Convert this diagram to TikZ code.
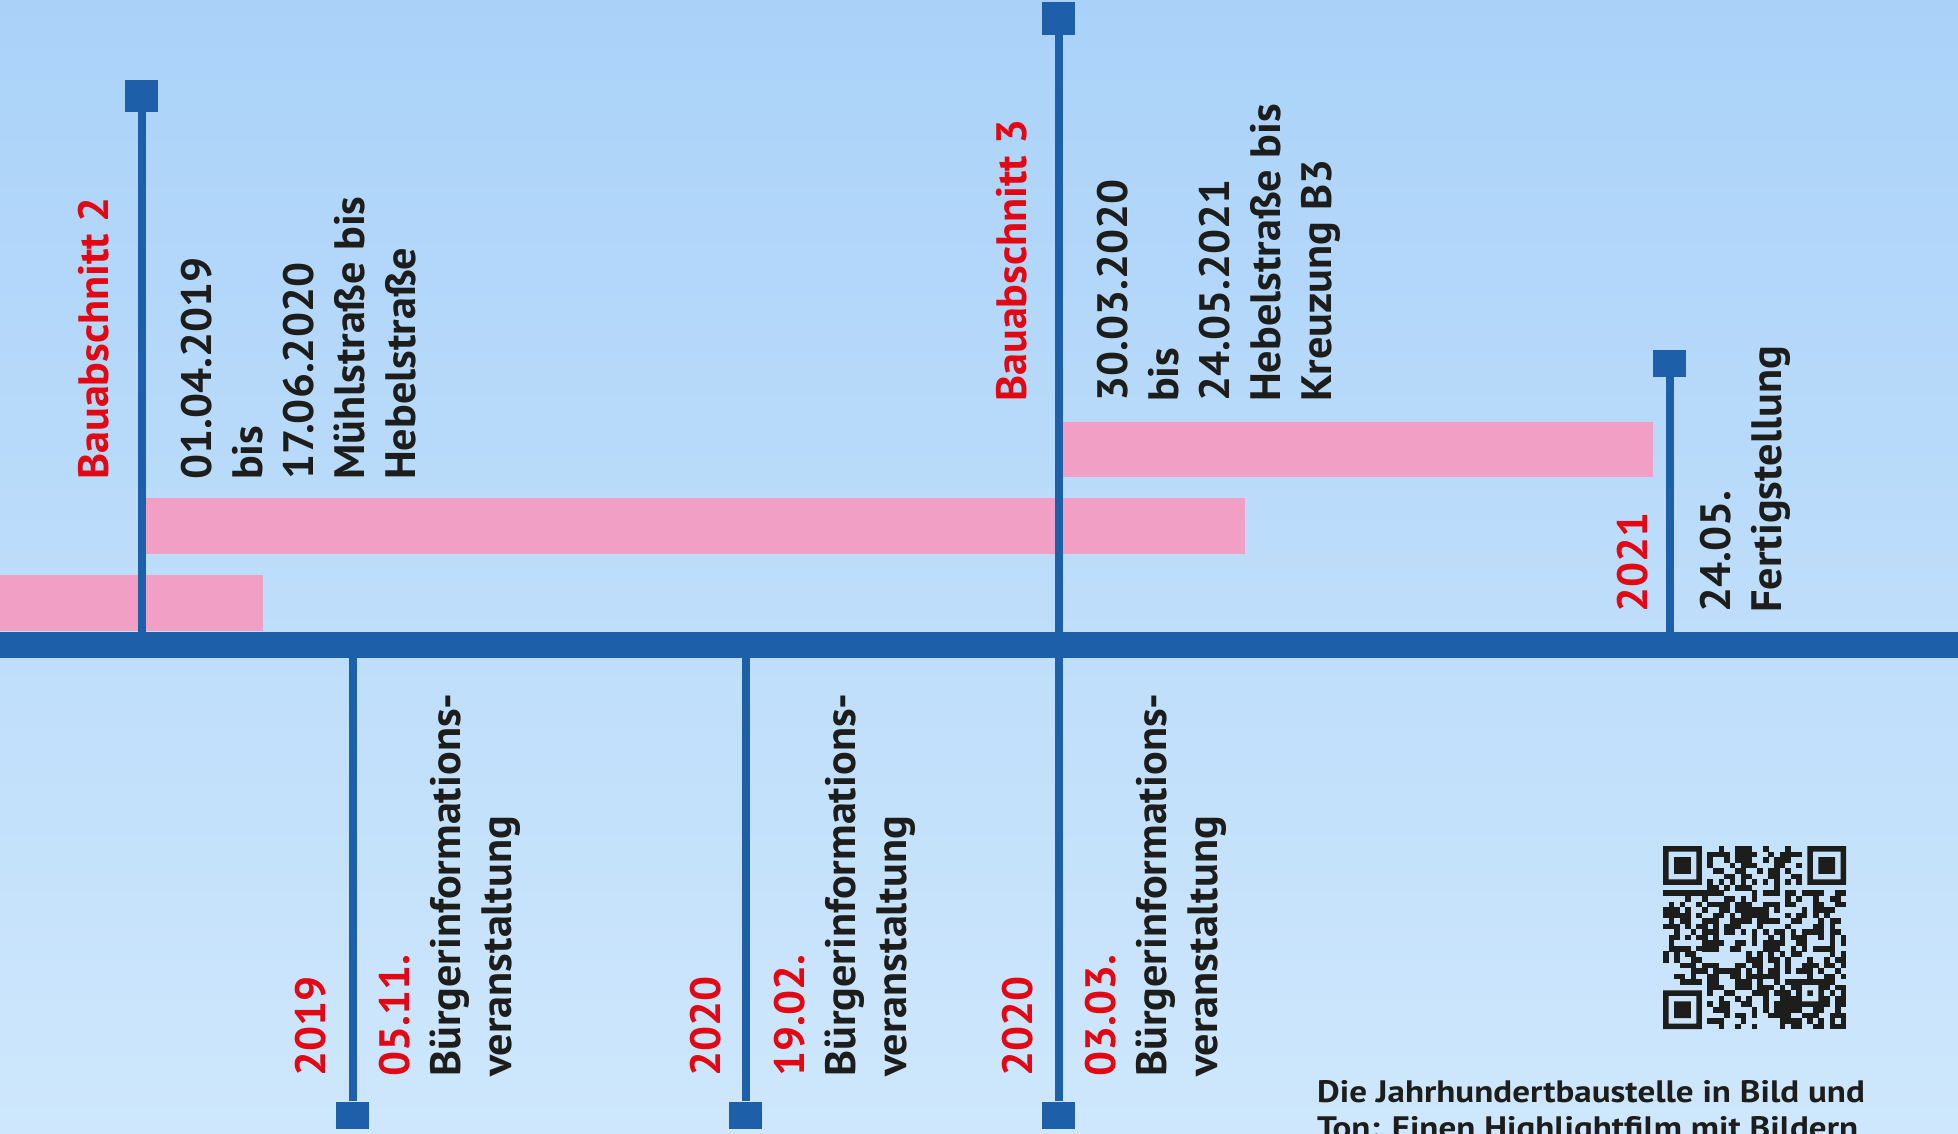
\documentclass[tikz,border=0pt]{standalone}
\usepackage{fontspec}
\setmainfont{PT Sans}[BoldFont={PT Sans Bold},FakeStretch=1.04]
\newfontfamily\infofont{PT Sans Bold}[FakeStretch=1.13]
\usetikzlibrary{positioning,calc}

\definecolor{tlblue}{RGB}{29,95,168}
\definecolor{tlred}{RGB}{227,6,19}
\definecolor{tlpink}{RGB}{242,159,197}
\definecolor{tlink}{RGB}{29,29,27}
\definecolor{skytop}{RGB}{170,210,249}
\definecolor{skymid}{RGB}{200,226,251}
\definecolor{skybot}{RGB}{206,231,252}

\begin{document}
\begin{tikzpicture}[
  x=1pt,y=-1pt,
  endsq/.style={fill=tlblue,minimum width=33pt,minimum height=27pt,inner sep=0pt},
  stemline/.style={draw=tlblue,line width=8pt},
  pinkbar/.style={fill=tlpink},
  txt/.style={rotate=90,anchor=base west,inner sep=0pt,align=left,text=tlink,
    font=\bfseries\fontsize{42.5}{51}\selectfont},
  yr/.style={txt,text=tlred}
]
\useasboundingbox (0,0) rectangle (1958,1133);
\clip (0,0) rectangle (1958,1133);
\shade[top color=skytop,middle color=skymid,bottom color=skybot] (0,0) rectangle (1958,1133);

% construction periods
\fill[pinkbar] (0,575) rectangle (263,631);
\fill[pinkbar] (146,498) rectangle (1245,554);
\fill[pinkbar] (1062,422) rectangle (1653,477);

% time axis
\fill[tlblue] (0,632) rectangle (1958,658);
\coordinate (axtop) at (0,632);
\coordinate (axbot) at (0,658);

% stem heads
\node[endsq,minimum height=32pt] (q1) at (141.5,96) {};
\node[endsq,minimum height=33pt] (q2) at (1058.5,18.5) {};
\node[endsq] (q3) at (1669.5,363.5) {};
\node[endsq] (q4) at (352.5,1115) {};
\node[endsq] (q5) at (745.5,1115) {};
\node[endsq] (q6) at (1058.5,1115) {};

\draw[stemline] (q1.south) -- (q1 |- axtop);
\draw[stemline] (q2.south) -- (q6.north);
\draw[stemline] (q3.south) -- (q3 |- axtop);
\draw[stemline] (q4.north) -- (q4 |- axbot);
\draw[stemline] (q5.north) -- (q5 |- axbot);

% upper labels (base = last line)
\node[yr] (ba2) at (108,480) {Bauabschnitt 2};
\node[txt] (d2) at (415,480) {01.04.2019\\bis\\17.06.2020\\Mühlstraße bis\\Hebelstraße};
\node[yr] (ba3) at (1026,402) {Bauabschnitt 3};
\node[txt] (d3) at (1331,402) {30.03.2020\\bis\\24.05.2021\\Hebelstraße bis\\Kreuzung B3};
\node[yr] (y21) at (1647,613) {2021};
\node[txt] (fin) at (1781,613) {24.05.\\Fertigstellung};

% lower labels
\node[yr] (y19) at (325,1077) {2019};
\node[txt] (bi1) at (511,1077) {\textcolor{tlred}{05.11.}\\Bürgerinformations-\\veranstaltung};
\node[yr] (y20a) at (720,1077) {2020};
\node[txt] (bi2) at (906,1077) {\textcolor{tlred}{19.02.}\\Bürgerinformations-\\veranstaltung};
\node[yr] (y20b) at (1032,1077) {2020};
\node[txt] (bi3) at (1217,1077) {\textcolor{tlred}{03.03.}\\Bürgerinformations-\\veranstaltung};

% qr code
\begin{scope}[shift={(1663,846)},x=5.55pt,y=-5.55pt]
  \fill[tlink,even odd rule] (0,0) rectangle (7,7) (1,1) rectangle (6,6) (2,2) rectangle (5,5);
  \fill[tlink,even odd rule] (26,0) rectangle (33,7) (27,1) rectangle (32,6) (28,2) rectangle (31,5);
  \fill[tlink,even odd rule] (0,26) rectangle (7,33) (1,27) rectangle (6,32) (2,28) rectangle (5,31);
  \fill[tlink,even odd rule] (24,24) rectangle (29,29) (25,25) rectangle (28,28) (26,26) rectangle (27,27);
  \foreach \k in {8,10,...,24} {
    \fill[tlink] (\k,6) rectangle ++(1,1);
    \fill[tlink] (6,\k) rectangle ++(1,1);
  }
  \pgfmathsetseed{11}
  \foreach \i in {0,...,32} {
    \foreach \j in {0,...,32} {
      \pgfmathtruncatemacro\qrfree{((\i<8)&&(\j<8)) || ((\i>24)&&(\j<8)) || ((\i<8)&&(\j>24)) || ((\i>23)&&(\i<29)&&(\j>23)&&(\j<29)) || (\i==6) || (\j==6)}
      \pgfmathtruncatemacro\qrbit{rnd<0.5}
      \ifnum\qrfree=0 \ifnum\qrbit=1 \fill[tlink] (\i,\j) rectangle ++(1.02,1.02); \fi\fi
    }
  }
\end{scope}

\node[anchor=base west,inner sep=0pt,align=left,text=tlink,
  font=\infofont\fontsize{31}{36}\selectfont] (info) at (1317,1138)
  {Die Jahrhundertbaustelle in Bild und\\Ton: Einen Highlightfilm mit Bildern};
\end{tikzpicture}
\end{document}
